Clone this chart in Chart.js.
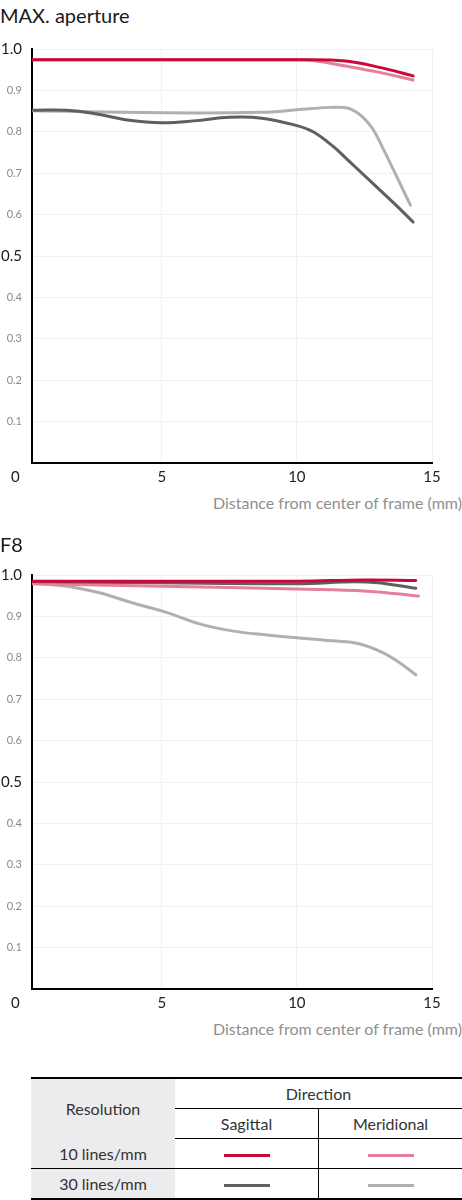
<!DOCTYPE html>
<html>
<head>
<meta charset="utf-8">
<script src="https://cdn.jsdelivr.net/npm/chart.js@4.4.1/dist/chart.umd.min.js"></script>
<style>
  body { margin: 0; width: 462px; height: 1200px; position: relative; background: #fff; font-family: Lato, sans-serif; overflow: hidden; }
  .title { position: absolute; left: 0; font-size: 20px; line-height: 22px; color: #1a1a1a; }
  .box { position: absolute; left: 0; width: 462px; height: 460px; }
  .zero { position: absolute; left: 11px; font-size: 15px; line-height: 18px; color: #222; }
  .axis { position: absolute; right: 0; font-size: 16px; line-height: 18px; color: #8f8f8f; white-space: nowrap; }
  table { position: absolute; left: 31px; top: 1077px; width: 431px; border-collapse: collapse; font-size: 16px; color: #333; text-align: center; }
  table td { padding: 0; height: 29px; }
  tr.first td { border-top: 2px solid #000; }
  tr.last td { border-bottom: 2px solid #000; }
  td.res { background: #ececee; width: 144px; }
  .sw { display: inline-block; width: 46px; height: 3px; vertical-align: middle; }
</style>
</head>
<body>
<div class="title" style="top:4px">MAX. aperture</div>
<div class="box" style="top:30px"><canvas id="chartMax"></canvas></div>
<div class="zero" style="top:467px">0</div>
<div class="axis" style="top:494px">Distance from center of frame (mm)</div>

<div class="title" style="top:533px">F8</div>
<div class="box" style="top:556px"><canvas id="chartF8"></canvas></div>
<div class="zero" style="top:993px">0</div>
<div class="axis" style="top:1020px">Distance from center of frame (mm)</div>

<table>
  <tr class="first">
    <td class="res" rowspan="2">Resolution</td>
    <td colspan="2" style="border-bottom:1px solid #000">Direction</td>
  </tr>
  <tr>
    <td style="border-bottom:1px solid #000;border-right:1px solid #000;width:143px">Sagittal</td>
    <td style="border-bottom:1px solid #000">Meridional</td>
  </tr>
  <tr>
    <td class="res" style="border-bottom:1px solid #000">10 lines/mm</td>
    <td style="border-bottom:1px solid #000;border-right:1px solid #000"><span class="sw" style="background:#c8093c"></span></td>
    <td style="border-bottom:1px solid #000"><span class="sw" style="background:#e3809a"></span></td>
  </tr>
  <tr class="last">
    <td class="res">30 lines/mm</td>
    <td style="border-right:1px solid #000"><span class="sw" style="background:#5f5f5f"></span></td>
    <td><span class="sw" style="background:#b0b0b0"></span></td>
  </tr>
</table>

<script>
// MAX. aperture
const maxS10x = [0.2, 5, 10, 11.8, 13.1, 14.3];
const maxS10y = [0.974, 0.974, 0.974, 0.971, 0.955, 0.935];
const maxM10x = [0.2, 5, 10, 10.6, 11.8, 13.1, 14.3];
const maxM10y = [0.974, 0.974, 0.974, 0.972, 0.959, 0.943, 0.925];
const maxS30x = [0.2, 1.5, 2.6, 3.8, 5.0, 6.3, 7.5, 8.7, 10.0, 10.6, 11.3, 12.0, 12.8, 13.6, 14.3];
const maxS30y = [0.852, 0.852, 0.843, 0.828, 0.822, 0.827, 0.835, 0.833, 0.815, 0.8, 0.767, 0.725, 0.676, 0.627, 0.582];
const maxM30x = [0.2, 5, 8.7, 10, 11.2, 11.7, 12.0, 12.4, 12.8, 13.2, 13.7, 14.2];
const maxM30y = [0.851, 0.846, 0.847, 0.853, 0.859, 0.859, 0.855, 0.838, 0.808, 0.758, 0.691, 0.623];

// F8
const f8S10x = [0.2, 5, 10, 12.5, 14.4];
const f8S10y = [0.985, 0.985, 0.985, 0.988, 0.987];
const f8S30x = [0.2, 5, 10, 12.6, 14.4];
const f8S30y = [0.984, 0.981, 0.979, 0.983, 0.968];
const f8M10x = [0.2, 5, 10, 12.6, 14.5];
const f8M10y = [0.979, 0.973, 0.966, 0.961, 0.949];
const f8M30x = [0.2, 1.5, 2.7, 3.9, 5.2, 6.4, 7.6, 8.9, 10.1, 11.3, 12.3, 13.2, 13.8, 14.4];
const f8M30y = [0.98, 0.973, 0.957, 0.933, 0.909, 0.882, 0.865, 0.855, 0.848, 0.841, 0.834, 0.812, 0.788, 0.759];

const xTicks = [5, 10, 15];
const colors = { s10: '#c8093c', m10: '#e3809a', s30: '#5f5f5f', m30: '#b0b0b0' };

const pts = (xs, ys) => xs.map((x, i) => ({ x, y: ys[i] }));
const isBig = c => !!c.tick && (Math.abs(c.tick.value - 1) < 1e-6 || Math.abs(c.tick.value - 0.5) < 1e-6);

function series(label, xs, ys, color) {
  return {
    label, data: pts(xs, ys), borderColor: color, borderWidth: 3,
    pointRadius: 0, tension: 0.4, fill: false, borderCapStyle: 'round',
  };
}

function makeChart(id, sets) {
  new Chart(document.getElementById(id), {
    type: 'line',
    data: { datasets: sets },
    options: {
      responsive: true,
      maintainAspectRatio: false,
      animation: false,
      layout: { padding: { top: 16.5, right: 30, left: 0, bottom: 0 } },
      plugins: { legend: { display: false }, tooltip: { enabled: false } },
      scales: {
        x: {
          type: 'linear', min: 0.2, max: 15,
          afterBuildTicks: s => { s.ticks = xTicks.map(v => ({ value: v })); },
          afterFit: s => { s.height = 27; },
          grid: { color: '#f1f1f1', drawTicks: false },
          border: { display: true, color: '#000', width: 2 },
          ticks: { padding: 5, color: '#222', font: { family: 'Lato', size: 15 }, maxRotation: 0 },
        },
        y: {
          min: 0, max: 1,
          afterFit: s => { s.width = 32; },
          grid: { color: '#f1f1f1', drawTicks: false },
          border: { display: true, color: '#000', width: 2 },
          ticks: {
            stepSize: 0.1, padding: 10,
            callback: v => (v === 0 ? '' : Number(v).toFixed(1)),
            color: c => (isBig(c) ? '#1a1a1a' : '#8a8a8a'),
            font: c => (isBig(c) ? { family: 'Lato', size: 15 } : { family: 'Lato', size: 11 }),
          },
        },
      },
    },
  });
}

makeChart('chartMax', [
  series('10 lines/mm Sagittal', maxS10x, maxS10y, colors.s10),
  series('10 lines/mm Meridional', maxM10x, maxM10y, colors.m10),
  series('30 lines/mm Sagittal', maxS30x, maxS30y, colors.s30),
  series('30 lines/mm Meridional', maxM30x, maxM30y, colors.m30),
]);

makeChart('chartF8', [
  series('10 lines/mm Sagittal', f8S10x, f8S10y, colors.s10),
  series('30 lines/mm Sagittal', f8S30x, f8S30y, colors.s30),
  series('10 lines/mm Meridional', f8M10x, f8M10y, colors.m10),
  series('30 lines/mm Meridional', f8M30x, f8M30y, colors.m30),
]);
</script>
</body>
</html>
